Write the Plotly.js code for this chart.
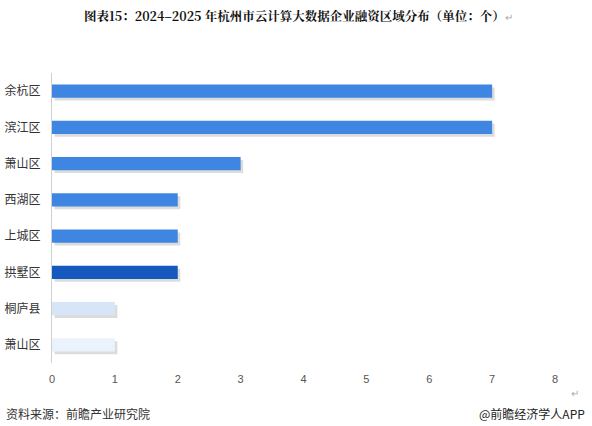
<!DOCTYPE html>
<html>
<head>
<meta charset="utf-8">
<script src="https://cdn.plot.ly/plotly-3.0.1.min.js"></script>
<style>body{margin:0;background:#fff}#chart{width:592px;height:426px}</style>
</head>
<body>
<div id="chart"></div>
<script>
// 2024-2025 杭州市云计算大数据企业融资区域分布（单位：个）
const districts = ['余杭区', '滨江区', '萧山区', '西湖区', '上城区', '拱墅区', '桐庐县', '萧山区'];
const counts = [7, 7, 3, 2, 2, 2, 1, 1];
const barColors = ['#3f86e2', '#3f86e2', '#3f86e2', '#3f86e2', '#3f86e2', '#1558be', '#d6e6f8', '#eaf2fc'];
const xTicks = [0, 1, 2, 3, 4, 5, 6, 7, 8];

// names repeat (萧山区 twice), so rows are placed by index and labelled by tick text
const rows = districts.map((d, i) => i);

const shadow = {
    type: 'bar',
    orientation: 'h',
    y: rows,
    x: counts,
    base: 0.04,
    width: 0.36,
    offset: -0.1,
    marker: { color: 'rgba(60,60,60,0.18)', line: { width: 0 } },
    hoverinfo: 'skip',
    showlegend: false,
};

const bars = {
    type: 'bar',
    orientation: 'h',
    y: rows,
    x: counts,
    width: 0.36,
    marker: { color: barColors, line: { width: 0 } },
    showlegend: false,
};

const layout = {
    width: 592,
    height: 426,
    margin: { t: 73, l: 52, r: 37, b: 63 },
    paper_bgcolor: '#ffffff',
    plot_bgcolor: '#ffffff',
    barmode: 'overlay',
    font: { family: '"Noto Sans CJK SC", sans-serif', color: '#333' },
    xaxis: {
        range: [0, 8],
        tickvals: xTicks,
        showgrid: false,
        zeroline: false,
        showline: false,
        ticks: '',
        ticklabelstandoff: 8,
        tickfont: { size: 11, color: '#555', family: 'Arial, "Liberation Sans", sans-serif' },
    },
    yaxis: {
        range: [7.5, -0.5],
        tickmode: 'array',
        tickvals: rows,
        ticktext: districts,
        showgrid: false,
        zeroline: false,
        showline: true,
        linecolor: '#d0d0d0',
        linewidth: 1,
        ticks: '',
        ticklen: 0,
        ticklabelstandoff: 8,
        tickfont: { size: 12, color: '#333' },
    },
    annotations: [
        {
            xref: 'paper', yref: 'paper', x: 0.49, y: 1.195, xanchor: 'center', yanchor: 'middle',
            text: '<b>图表15：2024–2025 年杭州市云计算大数据企业融资区域分布（单位：个）</b><span style="color:#aaa;font-size:10px">↵</span>',
            showarrow: false,
            font: { size: 12.5, color: '#111', family: '"Noto Serif CJK SC", "Noto Sans CJK SC", serif' },
        },
        {
            xref: 'paper', yref: 'paper', x: -0.095, y: -0.175, xanchor: 'left', yanchor: 'middle',
            text: '资料来源：前瞻产业研究院', showarrow: false,
            font: { size: 12, color: '#333' },
        },
        {
            xref: 'paper', yref: 'paper', x: 1.063, y: -0.175, xanchor: 'right', yanchor: 'middle',
            text: '@前瞻经济学人APP', showarrow: false,
            font: { size: 12, color: '#222' },
        },
        {
            xref: 'paper', yref: 'paper', x: 1.04, y: -0.1, xanchor: 'center', yanchor: 'middle',
            text: '↵', showarrow: false,
            font: { size: 10, color: '#aaa' },
        },
    ],
};

Plotly.newPlot('chart', [shadow, bars], layout, { staticPlot: true });
</script>
</body>
</html>
